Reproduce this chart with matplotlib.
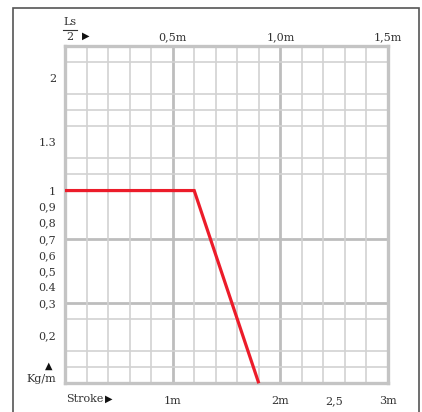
"""Curva Kg/m in funzione della corsa (Ls/2 sopra, stroke sotto)."""

import numpy as np
import matplotlib

matplotlib.use("Agg")
import matplotlib.pyplot as plt
from matplotlib.patches import Rectangle
from matplotlib.lines import Line2D

# --- dati ---
ls_half = [0.0, 0.6, 0.9]          # Ls/2 [m]
kg_m = [1.0, 1.0, 0.1]             # Kg/m

top_ticks = [0.5, 1.0, 1.5]
top_labels = ["0,5m", "1,0m", "1,5m"]
stroke_ticks = [1.0, 2.0, 2.5, 3.0]
stroke_labels = ["1m", "2m", "2,5", "3m"]
y_ticks = [2.0, 1.3, 1.0, 0.9, 0.8, 0.7, 0.6, 0.5, 0.4, 0.3, 0.2]
y_labels = ["2", "1.3", "1", "0,9", "0,8", "0,7", "0,6", "0,5", "0.4", "0,3", "0,2"]

# scala "a righe" della carta: valore -> numero di riga dal basso
scale_vals = [0.1, 0.2, 0.3, 0.4, 0.5, 0.6, 0.7, 0.8, 0.9, 1.0, 1.3, 2.0, 2.4]
scale_rows = [0, 3, 5, 6, 7, 8, 9, 10, 11, 12, 15, 19, 21]

SERIF = ["DejaVu Serif", "DejaVu Sans"]
GRID = "#d2d2d2"
GRID_DARK = "#bdbdbd"
TXT = "#333333"


def fwd(v):
    return np.interp(v, scale_vals, scale_rows)


def inv(r):
    return np.interp(r, scale_rows, scale_vals)


W, H = 422, 412
fig = plt.figure(figsize=(W / 100, H / 100), dpi=100)
ax = fig.add_axes([65 / W, (H - 383.3) / H, (388 - 65) / W, (383.3 - 46) / H])

ax.set_yscale("function", functions=(fwd, inv))
ax.set_xlim(0, 1.5)
ax.set_ylim(scale_vals[0], scale_vals[-1])

# griglia
ax.set_xticks(np.arange(0, 1.51, 0.1), minor=True)
ax.set_yticks(inv(np.arange(1, 21)), minor=True)
ax.grid(True, which="minor", color=GRID, lw=1.2)
ax.grid(False, which="major", axis="y")
ax.grid(True, which="major", axis="x", color=GRID_DARK, lw=2.0)
for v in (0.7, 0.3):
    ax.axhline(v, color=GRID_DARK, lw=2.0, zorder=0.5)
ax.set_axisbelow(True)

# asse superiore Ls/2
ax.xaxis.tick_top()
ax.set_xticks(top_ticks, top_labels, fontfamily=SERIF, fontsize=8, color=TXT)
ax.set_yticks(y_ticks, y_labels, fontfamily=SERIF, fontsize=8, color=TXT)
ax.tick_params(which="both", length=0)
ax.tick_params(axis="x", pad=3)
ax.tick_params(axis="y", pad=6.5)

# asse inferiore stroke
sec = ax.secondary_xaxis("bottom", functions=(lambda x: 2 * x, lambda x: x / 2))
sec.set_xticks(stroke_ticks, stroke_labels, fontfamily=SERIF, fontsize=8, color=TXT)
sec.tick_params(length=0, pad=9)
sec.spines["bottom"].set_visible(False)

for s in ax.spines.values():
    s.set_color("#c4c4c4")
    s.set_linewidth(2.4)

ax.plot(ls_half, kg_m, color="#ec1c2a", lw=2.3, solid_capstyle="butt",
        solid_joinstyle="miter", clip_on=False, zorder=3)

# etichette degli assi
fig.text(70 / W, 1 - 22 / H, "Ls", ha="center", va="center",
         fontfamily=SERIF, fontsize=8, color=TXT)
fig.text(70 / W, 1 - 37 / H, "2", ha="center", va="center",
         fontfamily=SERIF, fontsize=8, color=TXT)
fig.add_artist(Line2D([63 / W, 77 / W], [1 - 30 / H, 1 - 30 / H],
                      transform=fig.transFigure, color=TXT, lw=0.8))
fig.text(86 / W, 1 - 36 / H, "\u25b6", ha="center", va="center",
         fontfamily=SERIF, fontsize=7, color="#111111")
fig.text(66 / W, 1 - 399 / H, "Stroke", ha="left", va="center",
         fontfamily=SERIF, fontsize=8, color=TXT)
fig.text(109 / W, 1 - 399 / H, "\u25b6", ha="center", va="center",
         fontfamily=SERIF, fontsize=7, color="#111111")
fig.text(41 / W, 1 - 379 / H, "Kg/m", ha="center", va="center",
         fontfamily=SERIF, fontsize=8, color=TXT)
fig.text(49 / W, 1 - 366 / H, "\u25b2", ha="center", va="center",
         fontfamily=SERIF, fontsize=7, color="#111111")

# cornice esterna
fig.add_artist(Rectangle((12.5 / W, -0.05), (419 - 12.5) / W, (H - 7.5) / H + 0.05,
                         transform=fig.transFigure, fill=False,
                         edgecolor="#555555", lw=1.2))

fig.savefig("out.png", dpi=100)
